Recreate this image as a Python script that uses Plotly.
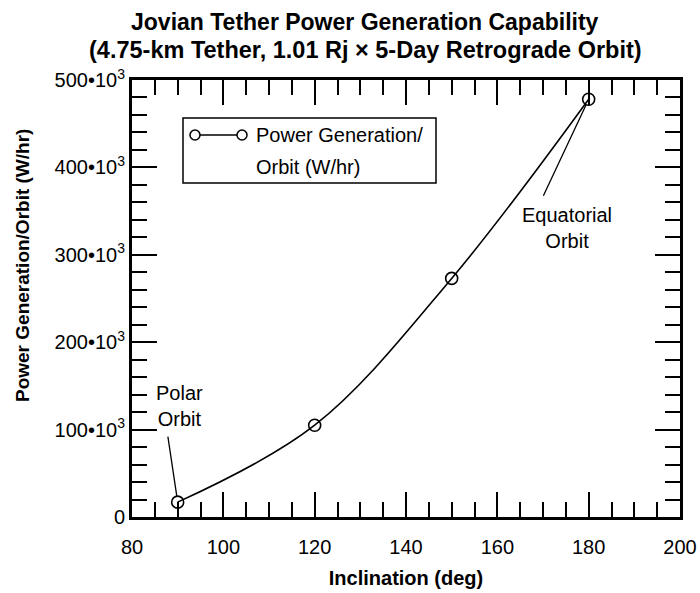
import plotly.graph_objects as go

# ── Data ───────────────────────────────────────────────────────────────────
inclination_deg = [90, 120, 150, 180]
power_per_orbit = [17e3, 105e3, 273e3, 478e3]

y_tick_vals = [0, 100e3, 200e3, 300e3, 400e3, 500e3]
y_tick_text = ["0", "100•10<sup>3</sup>", "200•10<sup>3</sup>",
               "300•10<sup>3</sup>", "400•10<sup>3</sup>", "500•10<sup>3</sup>"]

TITLE_LINES = ["Jovian Tether Power Generation Capability",
               "(4.75-km Tether, 1.01 Rj × 5-Day Retrograde Orbit)"]
LEGEND_LINES = ["Power Generation/", "Orbit (W/hr)"]

# ── Page geometry (pixels) ────────────────────────────────────────────────
W, H = 700, 593
L, R, T, B = 132, 680, 80, 517
FONT = "Liberation Sans, Arial, sans-serif"
INK = "black"


def paper(px, py):
    """pixel position on the page -> paper coordinates"""
    return (px - L) / (R - L), (B - py) / (B - T)


def label(text, px, py, size=20, bold=False, xanchor="center", **kw):
    x, y = paper(px, py)
    if bold:
        text = f"<b>{text}</b>"
    return dict(text=text, xref="paper", yref="paper", x=x, y=y,
                xanchor=xanchor, yanchor="middle", showarrow=False,
                font=dict(family=FONT, size=size, color=INK), **kw)


fig = go.Figure()
fig.add_trace(go.Scatter(
    x=inclination_deg,
    y=power_per_orbit,
    mode="lines+markers",
    line=dict(color=INK, width=1.6, shape="spline", smoothing=1.0),
    marker=dict(symbol="circle-open", size=12, color=INK, line=dict(width=1.6)),
    showlegend=False,
))

axis_common = dict(
    showline=True, linecolor=INK, linewidth=3,
    mirror="ticks", ticks="inside", tickcolor=INK, tickwidth=1.5, ticklen=25,
    showgrid=False, zeroline=False, automargin=False,
    tickfont=dict(family=FONT, size=20, color=INK),
)

fig.update_xaxes(
    **axis_common,
    range=[80, 200], dtick=20, tick0=80,
    minor=dict(dtick=5, ticks="inside", ticklen=15, tickwidth=1.5, tickcolor=INK),
    ticklabelstandoff=10,
    title=dict(text="<b>Inclination (deg)</b>",
               font=dict(family=FONT, size=20, color=INK), standoff=14),
)
fig.update_yaxes(
    **axis_common,
    range=[0, 500e3], tickvals=y_tick_vals, ticktext=y_tick_text,
    minor=dict(dtick=20e3, ticks="inside", ticklen=15, tickwidth=1.5, tickcolor=INK),
)

# ── Legend drawn by hand (circle — circle symbol) ─────────────────────────
shapes = []
x0, y0 = paper(183, 118)
x1, y1 = paper(436, 183)
shapes.append(dict(type="rect", xref="paper", yref="paper", x0=x0, y0=y0, x1=x1, y1=y1,
                   line=dict(color=INK, width=1.5)))
lx0, ly = paper(195, 135)
lx1, _ = paper(242, 135)
shapes.append(dict(type="line", xref="paper", yref="paper", x0=lx0, y0=ly, x1=lx1, y1=ly,
                   line=dict(color=INK, width=1.3)))
for cx in (195, 242):
    a0, b0 = paper(cx - 5, 130)
    a1, b1 = paper(cx + 5, 140)
    shapes.append(dict(type="circle", xref="paper", yref="paper",
                       x0=a0, y0=b0, x1=a1, y1=b1, fillcolor="white",
                       line=dict(color=INK, width=1.5)))

annotations = [
    label(LEGEND_LINES[0], 254, 135, xanchor="left"),
    label(LEGEND_LINES[1], 254, 167, xanchor="left"),
]

# ── Call-outs ─────────────────────────────────────────────────────────────
annotations.append(label("Polar<br>Orbit", 179, 406))
annotations.append(dict(x=inclination_deg[0], y=power_per_orbit[0], text="",
                        showarrow=True, arrowhead=0, arrowwidth=1.3, arrowcolor=INK,
                        ax=-10, ay=-67, standoff=6))
annotations.append(label("Equatorial<br>Orbit", 567, 228))
annotations.append(dict(x=inclination_deg[-1], y=power_per_orbit[-1], text="",
                        showarrow=True, arrowhead=0, arrowwidth=1.3, arrowcolor=INK,
                        ax=-46, ay=98, standoff=6))

# titles placed by hand
annotations.append(label(TITLE_LINES[0], 365, 22, size=23, bold=True))
annotations.append(label(TITLE_LINES[1], 365, 50, size=23.5, bold=True))
annotations.append(label("Power Generation/Orbit (W/hr)", 22, 266, size=19, bold=True,
                         textangle=-90))

fig.update_layout(
    width=W, height=H,
    margin=dict(l=L, r=W - R, t=T, b=H - B),
    paper_bgcolor="white", plot_bgcolor="white",
    font=dict(family=FONT, size=20, color=INK),
    shapes=shapes,
    annotations=annotations,
    showlegend=False,
)

fig.write_html("out.html", config={"displayModeBar": False},
               post_script="document.body.style.margin='0';")
